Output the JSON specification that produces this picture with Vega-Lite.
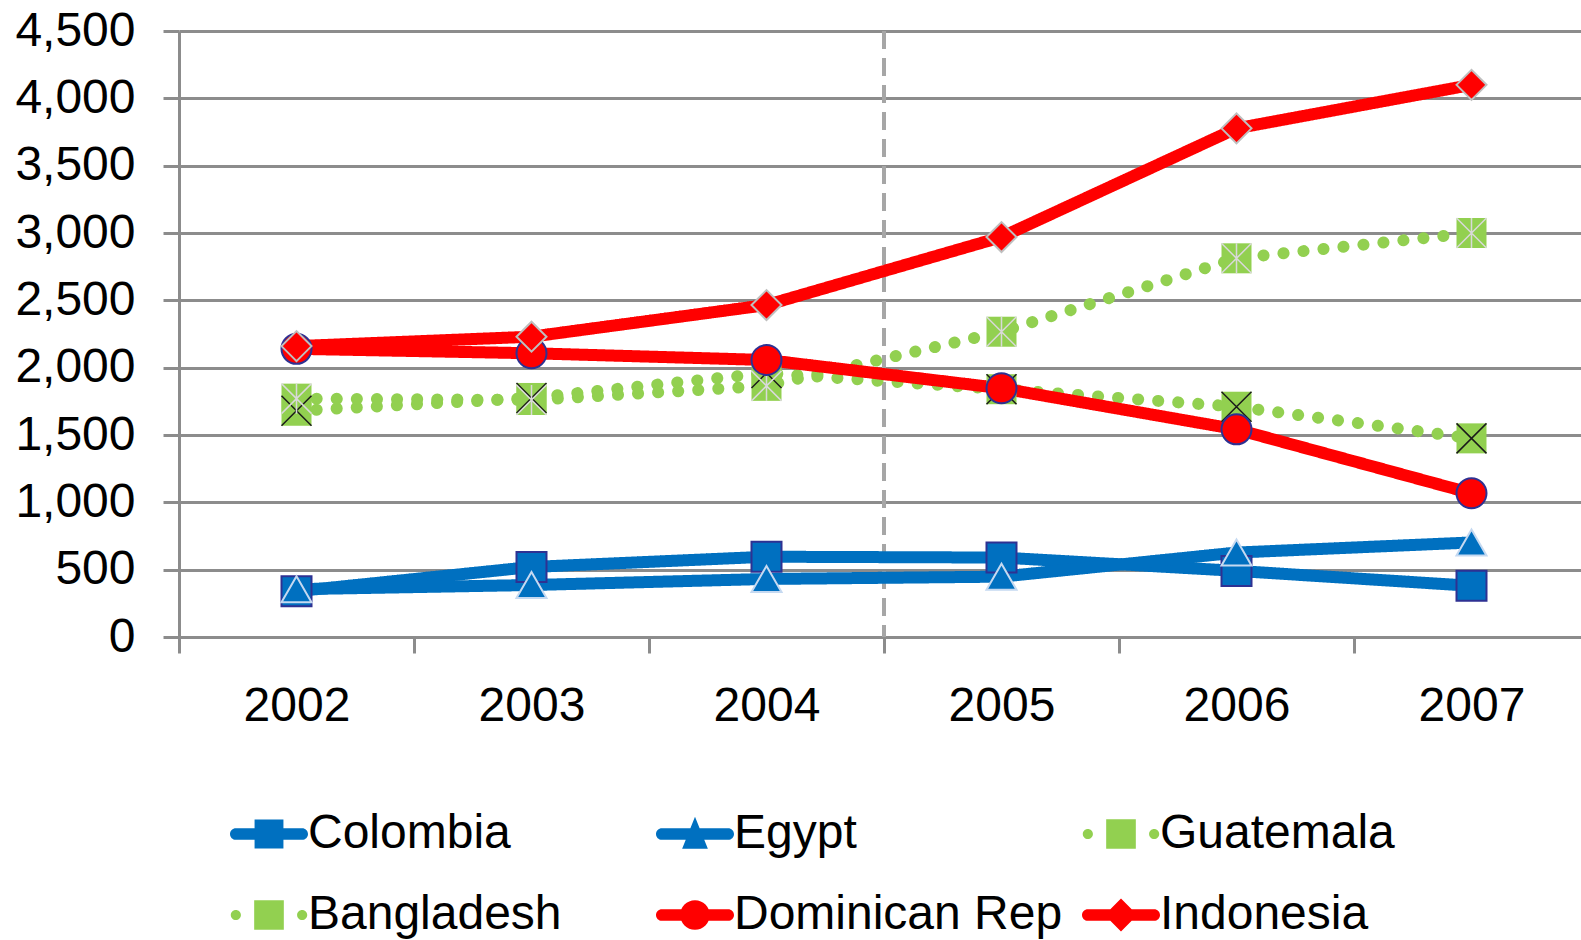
{
  "$schema": "https://vega.github.io/schema/vega-lite/v6.json",
  "autosize": {"type": "none"},
  "width": 1402,
  "height": 606,
  "padding": {"left": 179, "top": 31, "right": 0, "bottom": 303},
  "background": "white",
  "config": {
    "font": "Liberation Sans",
    "view": {"stroke": null},
    "axis": {
      "labelFont": "Liberation Sans",
      "labelFontSize": 48,
      "labelColor": "#000000",
      "domainColor": "#8C8C8C",
      "domainWidth": 3,
      "tickColor": "#8C8C8C",
      "tickWidth": 3,
      "tickSize": 16,
      "gridColor": "#8C8C8C",
      "gridWidth": 3,
      "gridOpacity": 1,
      "title": null
    }
  },
  "data": {
    "values": [
      {"series": "Colombia", "year": "2002", "value": 340},
      {"series": "Colombia", "year": "2003", "value": 520},
      {"series": "Colombia", "year": "2004", "value": 596},
      {"series": "Colombia", "year": "2005", "value": 590},
      {"series": "Colombia", "year": "2006", "value": 491},
      {"series": "Colombia", "year": "2007", "value": 380},
      {"series": "Egypt", "year": "2002", "value": 355},
      {"series": "Egypt", "year": "2003", "value": 386},
      {"series": "Egypt", "year": "2004", "value": 431},
      {"series": "Egypt", "year": "2005", "value": 448},
      {"series": "Egypt", "year": "2006", "value": 627},
      {"series": "Egypt", "year": "2007", "value": 702},
      {"series": "Guatemala", "year": "2002", "value": 1680},
      {"series": "Guatemala", "year": "2003", "value": 1775},
      {"series": "Guatemala", "year": "2004", "value": 1960},
      {"series": "Guatemala", "year": "2005", "value": 1840},
      {"series": "Guatemala", "year": "2006", "value": 1710},
      {"series": "Guatemala", "year": "2007", "value": 1475},
      {"series": "Bangladesh", "year": "2002", "value": 1770},
      {"series": "Bangladesh", "year": "2003", "value": 1760},
      {"series": "Bangladesh", "year": "2004", "value": 1865},
      {"series": "Bangladesh", "year": "2005", "value": 2267},
      {"series": "Bangladesh", "year": "2006", "value": 2812},
      {"series": "Bangladesh", "year": "2007", "value": 3000},
      {"series": "Dominican Rep", "year": "2002", "value": 2140},
      {"series": "Dominican Rep", "year": "2003", "value": 2107},
      {"series": "Dominican Rep", "year": "2004", "value": 2057},
      {"series": "Dominican Rep", "year": "2005", "value": 1847},
      {"series": "Dominican Rep", "year": "2006", "value": 1542},
      {"series": "Dominican Rep", "year": "2007", "value": 1067},
      {"series": "Indonesia", "year": "2002", "value": 2160},
      {"series": "Indonesia", "year": "2003", "value": 2230},
      {"series": "Indonesia", "year": "2004", "value": 2465},
      {"series": "Indonesia", "year": "2005", "value": 2970},
      {"series": "Indonesia", "year": "2006", "value": 3777},
      {"series": "Indonesia", "year": "2007", "value": 4100}
    ]
  },
  "encoding": {
    "x": {
      "field": "year",
      "type": "ordinal",
      "bandPosition": 0.5,
      "scale": {"type": "band", "range": [0, 1410], "paddingInner": 0, "paddingOuter": 0},
      "axis": {
        "labelAngle": 0,
        "labelBaseline": "middle",
        "labelPadding": 53,
        "tickBand": "extent",
        "grid": false
      }
    },
    "y": {
      "field": "value",
      "type": "quantitative",
      "scale": {"domain": [0, 4500], "nice": false},
      "axis": {
        "values": [0, 500, 1000, 1500, 2000, 2500, 3000, 3500, 4000, 4500],
        "format": ",d",
        "labelPadding": 28,
        "labelBaseline": "middle",
        "grid": true
      }
    },
    "color": {
      "field": "series",
      "type": "nominal",
      "scale": {
        "domain": ["Colombia", "Egypt", "Guatemala", "Bangladesh", "Dominican Rep", "Indonesia"],
        "range": ["#0070C0", "#0070C0", "#92D050", "#92D050", "#FF0000", "#FF0000"]
      },
      "legend": {
        "orient": "none",
        "legendX": 51,
        "legendY": 764,
        "direction": "horizontal",
        "columns": 3,
        "gridAlign": "all",
        "columnPadding": 19,
        "rowPadding": 18,
        "padding": 0,
        "title": null,
        "symbolSize": 6084,
        "symbolStrokeWidth": 0,
        "labelFont": "Liberation Sans",
        "labelFontSize": 48,
        "labelColor": "#000000",
        "labelOffset": 0,
        "labelLimit": 600,
        "encode": {
          "symbols": {
            "update": {
              "fill": {"scale": "color", "field": "value"},
              "fillOpacity": {"value": 1},
              "opacity": {"value": 1},
              "strokeWidth": {"value": 0},
              "shape": {
                "signal": "datum.value === 'Colombia' ? 'M-0.85,-0.15H0.85A0.15,0.15 0 0 1 0.85,0.15H-0.85A0.15,0.15 0 0 1 -0.85,-0.15ZM-0.37,-0.37H0.37V0.37H-0.37Z' : datum.value === 'Egypt' ? 'M-0.85,-0.15H0.85A0.15,0.15 0 0 1 0.85,0.15H-0.85A0.15,0.15 0 0 1 -0.85,-0.15ZM0,-0.44L0.33,0.38H-0.33Z' : (datum.value === 'Guatemala' || datum.value === 'Bangladesh') ? 'M-0.98,0A0.13,0.13 0 1 1 -0.72,0A0.13,0.13 0 1 1 -0.98,0ZM0.72,0A0.13,0.13 0 1 1 0.98,0A0.13,0.13 0 1 1 0.72,0ZM-0.38,-0.38H0.38V0.38H-0.38Z' : datum.value === 'Dominican Rep' ? 'M-0.85,-0.15H0.85A0.15,0.15 0 0 1 0.85,0.15H-0.85A0.15,0.15 0 0 1 -0.85,-0.15ZM-0.38,0A0.38,0.38 0 1 1 0.38,0A0.38,0.38 0 1 1 -0.38,0Z' : 'M-0.85,-0.15H0.85A0.15,0.15 0 0 1 0.85,0.15H-0.85A0.15,0.15 0 0 1 -0.85,-0.15ZM0,-0.42L0.42,0L0,0.42L-0.42,0Z'"
              }
            }
          }
        }
      }
    }
  },
  "layer": [
    {
      "mark": {"type": "rule", "color": "#A6A6A6", "strokeWidth": 4, "strokeDash": [18, 9]},
      "encoding": {
        "x": {"datum": "2005", "type": "ordinal", "bandPosition": 0},
        "y": null,
        "color": null
      }
    },
    {
      "mark": {"type": "line", "strokeWidth": 12, "strokeCap": "round", "strokeJoin": "round"},
      "encoding": {
        "strokeDash": {
          "field": "series",
          "type": "nominal",
          "scale": {
            "domain": ["Colombia", "Egypt", "Guatemala", "Bangladesh", "Dominican Rep", "Indonesia"],
            "range": [[1, 0], [1, 0], [0.1, 20], [0.1, 20], [1, 0], [1, 0]]
          },
          "legend": null
        }
      }
    },
    {
      "transform": [{"filter": "datum.series === 'Guatemala' || datum.series === 'Bangladesh'"}],
      "mark": {"type": "point", "filled": true, "size": 900, "opacity": 1, "shape": "square", "strokeWidth": 0}
    },
    {
      "transform": [{"filter": "datum.series === 'Guatemala'"}],
      "mark": {"type": "point", "filled": false, "size": 900, "opacity": 1, "shape": "M-1,-1L1,1M1,-1L-1,1", "stroke": "#1A1A1A", "strokeWidth": 1.5},
      "encoding": {"color": null}
    },
    {
      "transform": [{"filter": "datum.series === 'Bangladesh'"}],
      "mark": {"type": "point", "filled": false, "size": 900, "opacity": 1, "shape": "M-1,-1L1,1M1,-1L-1,1M0,-1L0,1", "stroke": "#D9D9D9", "strokeWidth": 1.5},
      "encoding": {"color": null}
    },
    {
      "transform": [{"filter": "datum.series === 'Colombia'"}],
      "mark": {"type": "point", "filled": true, "size": 900, "opacity": 1, "shape": "square", "stroke": "#2E3192", "strokeWidth": 2}
    },
    {
      "transform": [{"filter": "datum.series === 'Egypt'"}],
      "mark": {"type": "point", "filled": true, "size": 900, "opacity": 1, "shape": "triangle-up", "stroke": "#C5D9F1", "strokeWidth": 2}
    },
    {
      "transform": [{"filter": "datum.series === 'Dominican Rep'"}],
      "mark": {"type": "point", "filled": true, "size": 900, "opacity": 1, "shape": "circle", "stroke": "#2E3192", "strokeWidth": 2}
    },
    {
      "transform": [{"filter": "datum.series === 'Indonesia'"}],
      "mark": {"type": "point", "filled": true, "size": 900, "opacity": 1, "shape": "diamond", "stroke": "#BFBFBF", "strokeWidth": 2}
    }
  ]
}
